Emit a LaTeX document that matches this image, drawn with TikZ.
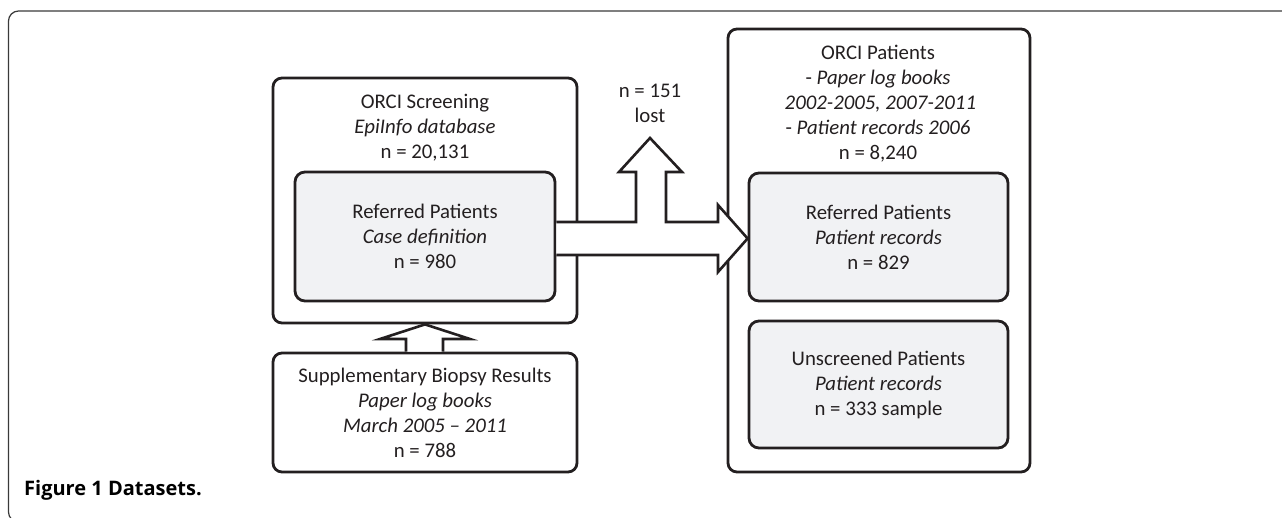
\documentclass[tikz,border=0pt]{standalone}
\usepackage{fontspec}
\setmainfont{Carlito}
\newfontfamily\capfont{Open Sans}
\usetikzlibrary{calc}
\definecolor{ink}{HTML}{231F20}
\definecolor{boxfill}{HTML}{F1F2F4}
\definecolor{framegray}{HTML}{3A3A3A}
\tikzset{
  txt/.style={text=ink, align=center, font=\fontsize{20.8}{25}\selectfont, inner sep=0pt},
  outerbox/.style={draw=ink, line width=2.8pt, rounded corners=9pt, fill=white, inner sep=0pt},
  innerbox/.style={draw=ink, line width=2.8pt, rounded corners=10pt, fill=boxfill, inner sep=0pt,
     text=ink, align=center, font=\fontsize{20.8}{25}\selectfont},
  fatarrow/.style={draw=ink, line width=2.6pt, fill=white, line join=miter, miter limit=10},
}
\begin{document}
\begin{tikzpicture}[x=1pt,y=-1pt]
\useasboundingbox (0,0) rectangle (1282,517);
\begin{scope}
\clip (0,0) rectangle (1282,517);
\draw[framegray, line width=1.2pt, rounded corners=10pt] (8.5,11) rectangle (1300,522);
\end{scope}
% outer boxes
\node[outerbox, minimum width=304pt, minimum height=245pt] (scr) at (425,200.5) {};
\node[outerbox, minimum width=302pt, minimum height=443pt] (orp) at (879,250.5) {};
\node[innerbox, minimum width=304pt, minimum height=119pt, rounded corners=9pt, fill=white] (bio) at (425,412.5)
  {Supplementary Biopsy Results\\ \textit{Paper log books}\\ \textit{March 2005 -- 2011}\\ n = 788};
% texts in outer boxes
\node[txt] (scrt) at (425,128) {ORCI Screening\\ \textit{EpiInfo database}\\ n = 20,131};
\node[txt] (orpt) at (878,104) {ORCI Patients\\ - \textit{Paper log books}\\ \ \textit{2002-2005, 2007-2011}\\ - \textit{Patient records 2006}\\ n = 8,240};
\node[txt] (lost) at (650,103) {n = 151\\ lost};
% inner boxes
\node[innerbox, minimum width=260pt, minimum height=129pt] (refL) at (425,236.5)
  {Referred Patients\\ \textit{Case definition}\\ n = 980};
\node[innerbox, minimum width=259pt, minimum height=128pt] (refR) at (878.5,237)
  {Referred Patients\\ \textit{Patient records}\\ n = 829};
\node[innerbox, minimum width=259pt, minimum height=127pt] (uns) at (878.5,384.5)
  {Unscreened Patients\\ \textit{Patient records}\\ n = 333 sample};
% arrow from referred (left) to referred (right), with branch to lost
\path[fatarrow] ($(refL.east)+(0,-14.5)$) -- (636,222) -- (636,172) -- (619,172) -- (650,138)
  -- (682,172) -- (666,172) -- (666,222) -- (718,222) -- (718,205) -- ($(refR.west)+(0,1.5)$)
  -- (718,272) -- (718,255) -- ($(refL.east)+(0,18.5)$);
% arrow from biopsy to screening
\path[fatarrow] ($(bio.north)+(-19,0)$) -- (406,339) -- (380,339) -- (scr.south) -- (470,339) -- (443,339) -- ($(bio.north)+(18,0)$);
% caption
\node[anchor=base west, inner sep=0pt, text=black, font=\capfont\bfseries\fontsize{20}{22}\selectfont] (cap) at (24,495) {Figure 1 Datasets.};
\end{tikzpicture}
\end{document}
